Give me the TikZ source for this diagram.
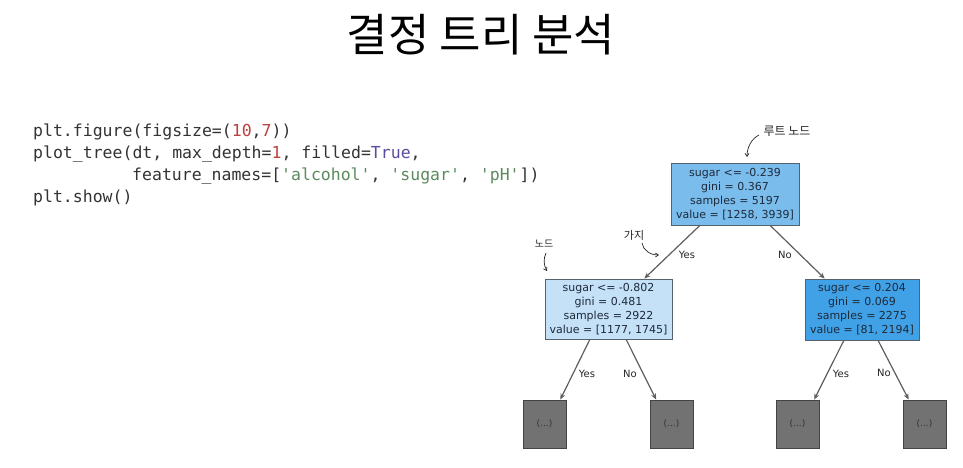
\documentclass[tikz,border=0pt]{standalone}
\usepackage{fontspec}
\setmainfont{DejaVu Sans}
\newfontfamily\kofont{Noto Sans CJK KR}
\newfontfamily\codefont{DejaVu Sans Mono}
\usetikzlibrary{arrows.meta,calc}
\definecolor{codegray}{HTML}{333333}
\definecolor{codered}{HTML}{B8433F}
\definecolor{codepurple}{HTML}{5C4BA0}
\definecolor{codegreen}{HTML}{5B8B5E}
\definecolor{rootfill}{HTML}{7ABDED}
\definecolor{lcfill}{HTML}{C4E1F7}
\definecolor{rcfill}{HTML}{40A1E6}
\definecolor{boxborder}{HTML}{56626E}
\definecolor{nodetext}{HTML}{1E2A3A}
\definecolor{leaffill}{HTML}{727272}
\definecolor{leafborder}{HTML}{444444}
\definecolor{edgegray}{HTML}{5E5E5E}
\begin{document}
\begin{tikzpicture}[x=1pt,y=-1pt,
  treebox/.style={draw=boxborder, fill=#1, line width=0.9pt, inner sep=0pt, align=center,
    font=\fontsize{11}{14}\selectfont, text=nodetext},
  leafbox/.style={draw=leafborder, fill=leaffill, line width=0.9pt, minimum width=43pt,
    minimum height=48pt, inner sep=0pt, font=\fontsize{9}{10}\selectfont, text=black!80},
  edgearrow/.style={draw=edgegray, line width=1.2pt, -{Stealth[length=6pt,width=5pt]}},
  edgelbl/.style={font=\fontsize{10}{11}\selectfont, text=black!85, inner sep=0pt},
  notetext/.style={font=\kofont\fontsize{#1}{#1}\selectfont, text=black!85, inner sep=0pt},
  notearrow/.style={draw=black!85, line width=0.7pt, -{Straight Barb[length=3pt,width=4pt]}},
  codeline/.style={anchor=base west, inner sep=0pt, font=\codefont\fontsize{16.5}{20}\selectfont, text=codegray}
]
\useasboundingbox[fill=white] (0,0) rectangle (963,468);

% title
\node[anchor=base, inner sep=0pt, font=\kofont\fontsize{45}{45}\selectfont] (title) at (481,52) {결정 트리 분석};

% code
\node[codeline] (c1) at (33,136) {plt.figure(figsize=(\textcolor{codered}{10},\textcolor{codered}{7}))};
\node[codeline] (c2) at (33,158) {plot\_tree(dt, max\_depth=\textcolor{codered}{1}, filled=\textcolor{codepurple}{True},};
\node[codeline] (c3) at (132,180) {feature\_names=[\textcolor{codegreen}{\textquotesingle alcohol\textquotesingle}, \textcolor{codegreen}{\textquotesingle sugar\textquotesingle}, \textcolor{codegreen}{\textquotesingle pH\textquotesingle}])};
\node[codeline] (c4) at (33,202) {plt.show()};

% tree nodes
\node[treebox=rootfill, minimum width=128pt, minimum height=62pt] (root) at (735,194)
  {sugar <= -0.239\\gini = 0.367\\samples = 5197\\value = [1258, 3939]};
\node[treebox=lcfill, minimum width=127pt, minimum height=60pt] (lc) at (608.5,309)
  {sugar <= -0.802\\gini = 0.481\\samples = 2922\\value = [1177, 1745]};
\node[treebox=rcfill, minimum width=114pt, minimum height=61pt] (rc) at (862,309.5)
  {sugar <= 0.204\\gini = 0.069\\samples = 2275\\value = [81, 2194]};
\node[leafbox] (l1) at (544.5,424) {(...)};
\node[leafbox] (l2) at (671.5,424) {(...)};
\node[leafbox] (l3) at (797.5,424) {(...)};
\node[leafbox] (l4) at (924.5,424) {(...)};

% edges
\draw[edgearrow] ($(root.south west)!0.227!(root.south east)$) -- ($(lc.north west)!0.78!(lc.north east)$);
\draw[edgearrow] ($(root.south west)!0.773!(root.south east)$) -- ($(rc.north west)!0.175!(rc.north east)$);
\draw[edgearrow] ($(lc.south west)!0.354!(lc.south east)$) -- ($(l1.north west)!0.86!(l1.north east)$);
\draw[edgearrow] ($(lc.south west)!0.638!(lc.south east)$) -- ($(l2.north west)!0.15!(l2.north east)$);
\draw[edgearrow] ($(rc.south west)!0.342!(rc.south east)$) -- ($(l3.north west)!0.88!(l3.north east)$);
\draw[edgearrow] ($(rc.south west)!0.64!(rc.south east)$) -- ($(l4.north west)!0.14!(l4.north east)$);

% edge labels
\node[edgelbl] (y0) at (687,255) {Yes};
\node[edgelbl] (n0) at (785,255) {No};
\node[edgelbl] (y1) at (587,374) {Yes};
\node[edgelbl] (n1) at (630,374) {No};
\node[edgelbl] (y2) at (841,374) {Yes};
\node[edgelbl] (n2) at (884,373) {No};

% annotations
\node[notetext=12] (rootnote) at (787,131) {루트 노드};
\node[notetext=10] (nodenote) at (544,244) {노드};
\node[notetext=11] (branchnote) at (634,235) {가지};
\coordinate (rootnoteS) at (759,135);
\coordinate (rootnoteT) at (747,157);
\draw[notearrow] (rootnoteS) .. controls (751,139) and (747,148) .. (rootnoteT);
\coordinate (nodenoteS) at (546,253);
\coordinate (nodenoteT) at (547,271);
\draw[notearrow] (nodenoteS) .. controls (543,259) and (544,266) .. (nodenoteT);
\coordinate (branchnoteS) at (642,243);
\coordinate (branchnoteT) at (659,255);
\draw[notearrow] (branchnoteS) .. controls (643,250) and (650,255) .. (branchnoteT);
\end{tikzpicture}
\end{document}
